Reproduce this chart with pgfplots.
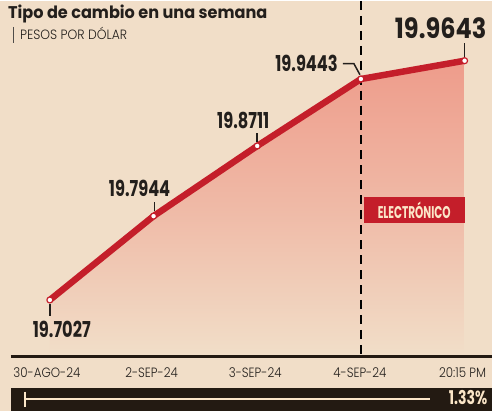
\documentclass[border=0pt]{standalone}
\usepackage{pgfplots}
\pgfplotsset{compat=1.18}
\usepackage{fontspec}
\setmainfont{Poppins}
\newfontfamily\titlefont[FakeStretch=0.95]{Poppins}
\newfontfamily\numfont[FakeStretch=0.74]{Poppins}
\newfontfamily\bignumfont[FakeStretch=0.86]{Poppins}
\newfontfamily\condfont[FakeStretch=0.62]{Poppins}
\newfontfamily\tickfont[FakeStretch=0.88]{Poppins Light}
\newfontfamily\subfont[FakeStretch=0.92]{Poppins Light}
\definecolor{bg}{HTML}{F1DEC8}
\definecolor{lred}{HTML}{C41E2A}
\definecolor{salmon}{HTML}{EE9C8B}
\definecolor{darkb}{HTML}{231A12}
\definecolor{cream}{HTML}{FBE6C8}
\definecolor{txt}{HTML}{231F1C}
\begin{document}
\begin{tikzpicture}
\fill[bg] (0,0) rectangle (493pt,411pt);
\begin{axis}[
  at={(0,0)}, anchor=south west,
  scale only axis, width=493pt, height=411pt,
  xmin=-0.4808, xmax=4.2596, ymin=19.5817, ymax=20.0297,
  hide axis, clip=false,
]
% shaded area under the line
\addplot[draw=none, top color=salmon, bottom color=bg, middle color=salmon!55!bg]
  coordinates {(0,19.6428) (0,19.7027) (1,19.7944) (2,19.8711) (3,19.9443) (4,19.9643) (4,19.6428)};
% dashed marker of last close
\draw[black, line width=1.8pt, dash pattern=on 9pt off 6pt] (axis cs:3,20.0297) -- (axis cs:3,19.6428);
% main line
\addplot[color=lred, line width=6.5pt, line join=round, mark=*, mark size=3pt,
  mark options={fill=white, draw=lred, line width=1.2pt}]
  coordinates {(0,19.7027) (1,19.7944) (2,19.8711) (3,19.9443) (4,19.9643)};
\end{axis}
\begin{scope}[x=1pt, y=-1pt, shift={(0pt,411pt)}]
% title
\node[anchor=base west, inner sep=0pt, text=txt, font=\titlefont\bfseries\fontsize{17}{17}\selectfont] at (8,18) {Tipo de cambio en una semana};
\draw[txt!80, line width=0.8pt] (13,26) -- (13,42);
\node[anchor=base west, inner sep=0pt, text=txt, font=\subfont\fontsize{13.5}{13.5}\selectfont] at (20,39) {PESOS POR DÓLAR};
% baseline and bottom band
\draw[darkb, line width=3pt] (11,357) -- (493,357);
\fill[darkb] (11,388) rectangle (493,411);
\draw[cream, line width=2pt] (25,399) -- (431,399);
\draw[cream, line width=1.6pt] (25,392) -- (25,407);
\node[anchor=east, inner sep=0pt, text=cream, font=\numfont\bfseries\fontsize{19}{19}\selectfont] at (489,398) {1.33\%};
% x labels
\foreach \xx/\lab in {47/30-AGO-24, 152/2-SEP-24, 256/3-SEP-24, 361/4-SEP-24, 464/20:15 PM}
  \node[inner sep=0pt, text=txt, font=\tickfont\fontsize{13.5}{13.5}\selectfont] at (\xx,373) {\lab};
% ELECTRONICO box
\fill[lred] (365,197) rectangle (466,223);
\node[inner sep=0pt, text=cream, font=\condfont\bfseries\fontsize{17}{17}\selectfont] at (415.5,210.5) {ELECTRÓNICO};
% value labels and leaders
\draw[txt, line width=1.5pt] (50,304) -- (50,316);
\node[inner sep=0pt, text=txt, font=\numfont\bfseries\fontsize{22}{22}\selectfont] at (62,329) {19.7027};
\draw[txt, line width=1.5pt] (155,211) -- (155,202);
\node[inner sep=0pt, text=txt, font=\numfont\bfseries\fontsize{22}{22}\selectfont] at (140,188) {19.7944};
\draw[txt, line width=1.5pt] (258,142) -- (258,133);
\node[inner sep=0pt, text=txt, font=\numfont\bfseries\fontsize{22}{22}\selectfont] at (244,120) {19.8711};
\draw[txt, line width=1.5pt] (344,63) -- (355,63) -- (361,74);
\node[anchor=east, inner sep=0pt, text=txt, font=\numfont\bfseries\fontsize{22}{22}\selectfont] at (339,63) {19.9443};
\draw[txt, line width=1.5pt] (466,56) -- (466,42);
\node[inner sep=0pt, text=txt, font=\bignumfont\bfseries\fontsize{28}{28}\selectfont] at (442,27) {19.9643};
\end{scope}
\end{tikzpicture}
\end{document}
